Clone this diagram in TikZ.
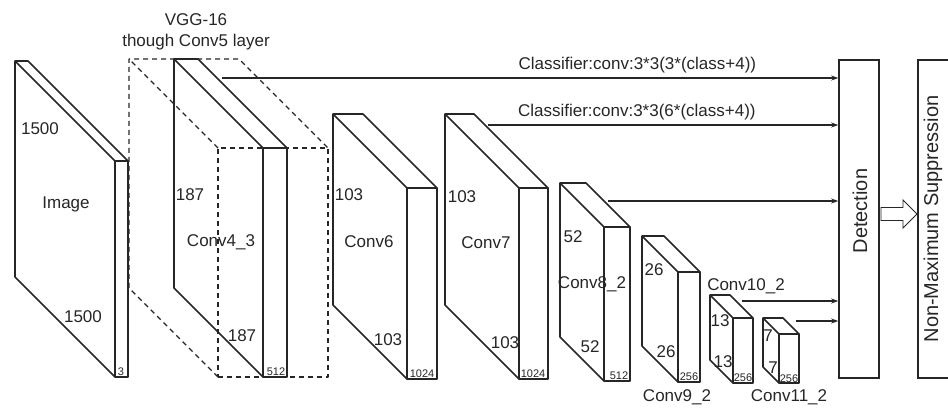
\documentclass[tikz,border=0pt]{standalone}
\usepackage{fontspec}
\setmainfont{Liberation Sans}
\usepackage{tikz}
\usetikzlibrary{arrows.meta}

\colorlet{ink}{black!85}

\begin{document}
\begin{tikzpicture}[
    x=1pt, y=-1pt,
    fmap/.style={draw=ink, line width=1.6pt, line join=round, inner sep=0pt, outer sep=0pt},
    vgg/.style={fmap, line width=1.4pt, dash pattern=on 5pt off 4pt},
    box/.style={draw=ink, line width=1.6pt, minimum width=40pt, minimum height=318pt, inner sep=0pt},
    arrow/.style={-{Stealth[length=7pt, width=5pt]}, draw=ink, line width=1.2pt},
    hollow/.style={draw=ink, line width=0.9pt, fill=white, line join=miter},
    lbl/.style={text=ink, font=\fontsize{17}{21}\selectfont, inner sep=0pt},
    chn/.style={text=ink, font=\fontsize{11}{12}\selectfont, inner sep=0pt},
    vtext/.style={text=ink, font=\fontsize{20}{24}\selectfont, inner sep=0pt, rotate=90}
]
\path[use as bounding box, clip] (0,0) rectangle (948,408);

% Feature maps: front face, then side and top faces
\foreach \n/\x/\y/\w/\h/\d in {img/121.5/269/13/216/100, c43/275/262.5/24/229/89,
    c6/422/283.5/30/191/74, c7/533.5/283.5/29/191/74, c82/617/304/26/154/44,
    c92/689/327/22/110/36, c102/743/350.5/20/65/23, c112/789/358.5/20/49/16}{
  \node[fmap, minimum width=\w pt, minimum height=\h pt] (\n) at (\x,\y) {};
  \draw[fmap] (\n.south west) -- ++(-\d,-\d) -- ++(0,-\h) -- ++(\w,0) -- (\n.north east)
              (\n.north west) -- ++(-\d,-\d);
}

% VGG-16 block
\node[vgg, minimum width=110pt, minimum height=229pt] (vgg) at (273,262.5) {};
\draw[vgg] (vgg.south west) -- ++(-89,-89) -- ++(0,-229) -- ++(110,0) -- (vgg.north east)
           (vgg.north west) -- ++(-89,-89);
\node[lbl, align=center] (vggname) at (196,32) {VGG-16\\though Conv5 layer};

% Sizes and names
\node[lbl] (img-h) at (40,129) {1500};
\node[lbl] (img-n) at (66,204) {Image};
\node[lbl] (img-w) at (83,317) {1500};
\node[chn] (img-c) at (121,372) {3};
\node[lbl] (c43-h) at (190,195) {187};
\node[lbl] (c43-n) at (221,242) {Conv4\_3};
\node[lbl] (c43-w) at (242,336) {187};
\node[chn] (c43-c) at (276,372) {512};
\node[lbl] (c6-h) at (349,195) {103};
\node[lbl] (c6-n) at (369,242) {Conv6};
\node[lbl] (c6-w) at (388,340) {103};
\node[chn] (c6-c) at (422,374) {1024};
\node[lbl] (c7-h) at (462,197) {103};
\node[lbl] (c7-n) at (486,243) {Conv7};
\node[lbl] (c7-w) at (505,343) {103};
\node[chn] (c7-c) at (533,374) {1024};
\node[lbl] (c82-h) at (573,237) {52};
\node[lbl] (c82-n) at (592,284) {Conv8\_2};
\node[lbl] (c82-w) at (590,347) {52};
\node[chn] (c82-c) at (619,376) {512};
\node[lbl] (c92-h) at (654,270) {26};
\node[lbl] (c92-w) at (666,352) {26};
\node[chn] (c92-c) at (689,377) {256};
\node[lbl] (c92-n) at (677,397) {Conv9\_2};
\node[lbl] (c102-h) at (720,321) {13};
\node[lbl] (c102-w) at (723,362) {13};
\node[chn] (c102-c) at (743,378) {256};
\node[lbl] (c102-n) at (746,286) {Conv10\_2};
\node[lbl] (c112-h) at (768,336) {7};
\node[lbl] (c112-w) at (773,368) {7};
\node[chn] (c112-c) at (789,379) {256};
\node[lbl] (c112-n) at (789,397) {Conv11\_2};

% Detection and NMS
\node[box] (det) at (859,219) {};
\node[vtext] (det-t) at (860,211) {Detection};
\node[box, minimum width=32pt] (nms) at (934,219) {};
\node[vtext] (nms-t) at (933,219) {Non-Maximum Suppression};
\coordinate (flow) at (881,214);
\draw[hollow] (flow) ++(0,-6.5) -- ++(22,0) -- ++(0,-7.5) -- ++(14,14) -- ++(-14,14)
              -- ++(0,-7.5) -- ++(-22,0) -- cycle;

% Classifier outputs
\coordinate (o1) at (222,78);
\coordinate (o2) at (488,125);
\coordinate (o3) at (608,201);
\coordinate (o4) at (742,301);
\coordinate (o5) at (796,321);
\draw[arrow] (o1) -- node[lbl, above=4.5pt, pos=0.674] (cls1) {Classifier:conv:3*3(3*(class+4))} (o1 -| det.west);
\draw[arrow] (o2) -- node[lbl, above=4pt, pos=0.425] (cls2) {Classifier:conv:3*3(6*(class+4))} (o2 -| det.west);
\draw[arrow] (o3) -- (o3 -| det.west);
\draw[arrow] (o4) -- (o4 -| det.west);
\draw[arrow] (o5) -- (o5 -| det.west);

\end{tikzpicture}
\end{document}
